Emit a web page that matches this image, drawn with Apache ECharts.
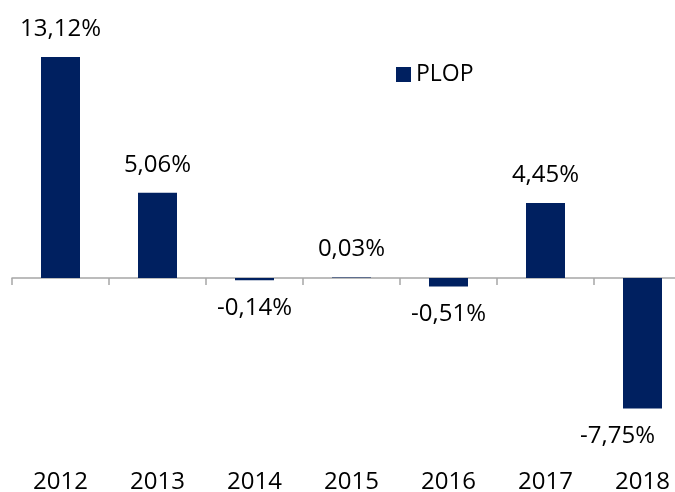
<!DOCTYPE html>
<html>
<head>
<meta charset="utf-8">
<script src="https://cdn.jsdelivr.net/npm/echarts@6/dist/echarts.min.js"></script>
<style>
  html, body { margin: 0; padding: 0; background: #fff; }
  #chart { width: 675px; height: 492px; }
</style>
</head>
<body>
<div id="chart"></div>
<script>
var years = ['2012', '2013', '2014', '2015', '2016', '2017', '2018'];
var plop = [13.12, 5.06, -0.14, 0.03, -0.51, 4.45, -7.75];
var seriesName = 'PLOP';

var barColor = '#002060';
var font = '"Open Sans", "Liberation Sans", sans-serif';

var chart = echarts.init(document.getElementById('chart'));

// put the label above positive bars and under negative ones
var barData = plop.map(function (v) {
    return {
        value: v,
        label: { position: v >= 0 ? 'top' : 'bottom' }
    };
});

chart.setOption({
    animation: false,
    backgroundColor: '#fff',
    legend: {
        data: [seriesName],
        left: 391,
        top: 58,
        icon: 'rect',
        itemWidth: 15,
        itemHeight: 15,
        textStyle: { fontSize: 23, color: '#000', fontFamily: font }
    },
    // the last category runs past the right edge, as in the original
    grid: {
        left: 12, width: 679, top: 42.2, height: 370.4,
        containLabel: false, outerBoundsMode: 'none'
    },
    xAxis: [{
        type: 'category',
        data: years,
        axisLine: { onZero: true, lineStyle: { color: '#a6a6a6', width: 1.5 } },
        axisTick: { show: true, length: 7, lineStyle: { color: '#a6a6a6', width: 1.5 } },
        axisLabel: { show: false }
    }, {
        type: 'category',
        data: years,
        position: 'bottom',
        axisLine: { show: false, onZero: false },
        axisTick: { show: false },
        axisLabel: { margin: 58, fontSize: 24, color: '#000', fontFamily: font }
    }],
    yAxis: {
        type: 'value',
        min: -8,
        max: 14,
        show: false,
        splitLine: { show: false }
    },
    series: [{
        name: seriesName,
        type: 'bar',
        barWidth: 39,
        itemStyle: { color: barColor },
        label: {
            show: true,
            distance: 16,
            fontSize: 24,
            color: '#000',
            fontFamily: font,
            formatter: function (p) {
                return p.value.toFixed(2).replace('.', ',') + '%';
            }
        },
        // keep labels inside the picture (last one gets pushed left)
        labelLayout: function (params) {
            var r = params.labelRect;
            if (r.x + r.width > 655) {
                return { dx: 655 - (r.x + r.width) };
            }
            return {};
        },
        data: barData
    }]
});
</script>
</body>
</html>
